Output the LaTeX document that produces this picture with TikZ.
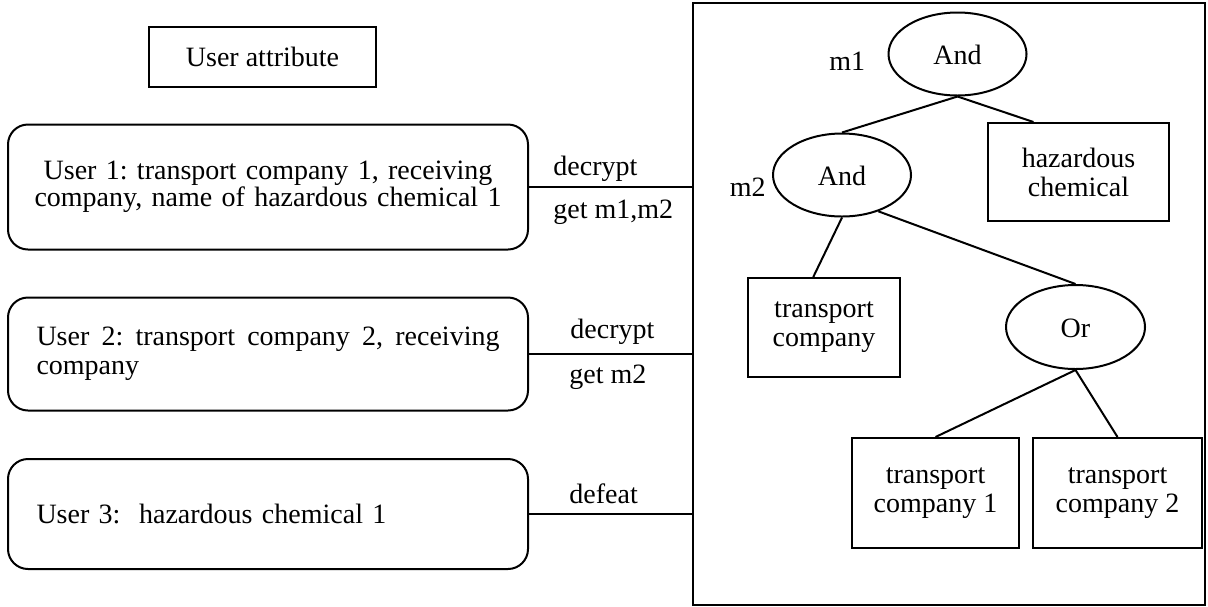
\documentclass[tikz,border=0pt]{standalone}
\usepackage{fontspec}
\setmainfont{Liberation Serif}
\usetikzlibrary{positioning}
\usetikzlibrary{shapes.geometric}
\frenchspacing
\tikzstyle{ubox} = [
    draw,
    line width=1pt,
    rounded corners=10pt,
    minimum width=260pt,
    text width=231.5pt,
    inner sep=0pt,
    font=\fontsize{14}{14.5}\selectfont
]
\tikzstyle{abox} = [
	draw,
	line width=1pt,
	minimum width=113.5pt,
	minimum height=30pt,
	font=\fontsize{14}{14.5}\selectfont
]
\tikzstyle{gate} = [
	draw,
	ellipse,
	line width=1pt,
	minimum width=69pt,
	minimum height=41.5pt,
	inner sep=0pt,
	text height=1em,
	text depth=0pt,
	font=\fontsize{14}{14.5}\selectfont
]
\tikzstyle{leaf} = [
	draw,
	line width=1pt,
	align=center,
	inner sep=0pt,
	font=\fontsize{14}{14.5}\selectfont
]
\tikzstyle{elabel} = [
	anchor=west,
	inner sep=0pt,
	font=\fontsize{14}{14.5}\selectfont
]
\tikzstyle{link} = [
	line width=1pt
]

\begin{document}
\frenchspacing
\begin{tikzpicture}[x=0.5pt, y=-0.5pt, node distance=0pt and 0pt]
	\useasboundingbox (0,0) rectangle (1208,606);
	
	%
	% Users
	\node[abox] (attr) at (262.5,57) {User attribute};
	\node[ubox, align=center, text width=250pt, minimum height=62.5pt, font=\fontsize{14}{13.5}\selectfont] (u1) at (268,187) {User 1: transport company 1, receiving\\company, name of hazardous chemical 1};
	\node[ubox, align=justify, minimum height=56.5pt] (u2) at (268,354) {User 2: transport company 2, receiving\linebreak company};
	\node[ubox, align=left, minimum height=55pt] (u3) at (268,514) {User 3:\ \ hazardous chemical 1};
	
	%
	% Access tree
	\node[draw, line width=1pt, minimum width=256pt, minimum height=301pt, inner sep=0pt] (tree) at (949,304) {};
	\node[gate] (and1) at (957.5,54) {And};
	\node[elabel, anchor=east, left=11pt of and1, yshift=-3.75pt] (m1) {m1};
	\node[gate] (and2) at (842,175) {And};
	\node[elabel, anchor=east, left=3pt of and2, yshift=-6pt] (m2) {m2};
	\node[leaf, minimum width=90.5pt, minimum height=49pt] (haz) at (1078.5,172) {hazardous\\chemical};
	\node[leaf, minimum width=76pt, minimum height=49.5pt] (tc) at (824,327.5) {transport\\company};
	\node[gate, minimum width=69.5pt, minimum height=42pt] (or) at (1075.5,327) {Or};
	\node[leaf, minimum width=83.5pt, minimum height=55pt] (tc1) at (935.5,493) {transport\\company 1};
	\node[leaf, minimum width=84.5pt, minimum height=55pt, right=6pt of tc1] (tc2) {transport\\company 2};
	
	\draw[link] (and1.south) -- (and2.north);
	\draw[link] (and1.south) -- (haz.132);
	\draw[link] (and2.south) -- (tc.102);
	\draw[link] (and2.-45) -- (or.north);
	\draw[link] (or.south) -- (tc1.north);
	\draw[link] (or.south) -- (tc2.north);
	
	%
	% Links to the tree
	\draw[link] (u1.east) -- (u1.east -| tree.west);
	\draw[link] (u2.east) -- (u2.east -| tree.west);
	\draw[link] (u3.east) -- (u3.east -| tree.west);
	\node[elabel] (dec1) at (553,168.5) {decrypt};
	\node[elabel] (get1) at (553,212.5) {get m1,m2};
	\node[elabel] (dec2) at (570,331.5) {decrypt};
	\node[elabel] (get2) at (569,377) {get m2};
	\node[elabel] (def3) at (569,493.5) {defeat};
	
\end{tikzpicture}
\end{document}
